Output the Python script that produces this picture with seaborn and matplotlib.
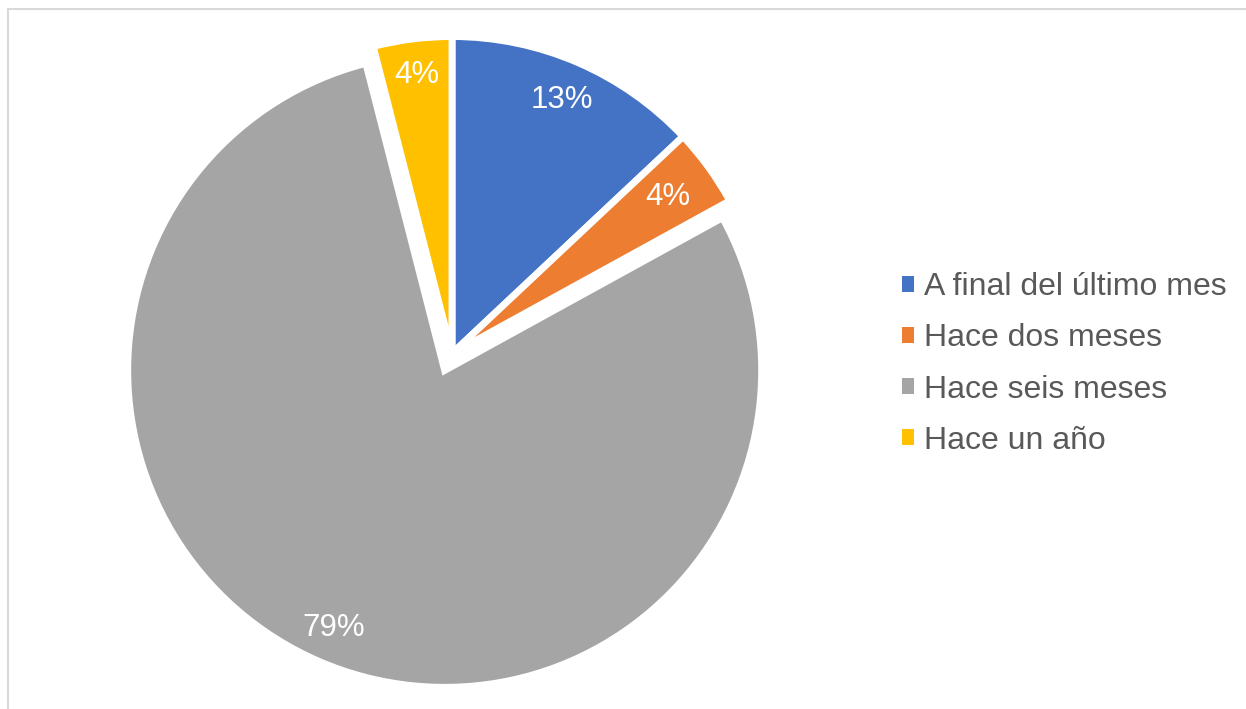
import matplotlib
matplotlib.use("Agg")
import numpy as np
import matplotlib.pyplot as plt
from matplotlib.patches import Patch, Rectangle
import seaborn as sns

# Response shares (percent)
categories = ["A final del último mes", "Hace dos meses", "Hace seis meses", "Hace un año"]
shares = [13, 4, 79, 4]
explode = [0, 0, 0.058, 0]
label_dist = [0.87, 0.84, 0.885, 0.885]

sns.set_theme(style="white")
plt.rcParams["font.family"] = ["Liberation Sans", "DejaVu Sans"]

colors = sns.color_palette(["#4472C4", "#ED7D31", "#A5A5A5", "#FFC000"])

W, H = 1246, 709
fig = plt.figure(figsize=(W / 100, H / 100), dpi=100)
fig.patch.set_facecolor("white")

# Light chart-area frame
fig.patches.append(Rectangle((8 / W, -10 / H), (W + 20) / W, (H - 9 + 10) / H,
                             transform=fig.transFigure, fill=False,
                             edgecolor="#D9D9D9", linewidth=1.5))

# Pie axes: center at (452, 353) px, unit radius = 317 px
R = 317
cx, cy = 452, H - 353.5
half = 1.1 * R
ax = fig.add_axes([(cx - half) / W, (cy - half) / H, 2 * half / W, 2 * half / H])

wedges, texts, autotexts = ax.pie(
    shares,
    colors=colors,
    explode=explode,
    startangle=90,
    counterclock=False,
    autopct=lambda p: f"{p:.0f}%",
    pctdistance=0.87,
    wedgeprops=dict(edgecolor="white", linewidth=5),
    textprops=dict(color="white", fontsize=22.5),
)
# Place each percentage label along its wedge's bisector
for w, t, d, e in zip(wedges, autotexts, label_dist, explode):
    ang = np.deg2rad((w.theta1 + w.theta2) / 2)
    r = d + e
    t.set_position((r * np.cos(ang), r * np.sin(ang)))

ax.set_xlim(-1.1, 1.1)
ax.set_ylim(-1.1, 1.1)
ax.set_aspect("equal")
ax.axis("off")

handles = [Patch(facecolor=c, edgecolor="none") for c in colors]
leg = fig.legend(
    handles, categories,
    loc="center left",
    bbox_to_anchor=(902 / W, (H - 364) / H),
    frameon=False,
    fontsize=23,
    handlelength=0.37,
    handleheight=0.37,
    handletextpad=0.32,
    labelspacing=0.66,
    borderpad=0,
    borderaxespad=0,
)
for t in leg.get_texts():
    t.set_color("#595959")

fig.savefig("out.png", dpi=100, facecolor="white")
